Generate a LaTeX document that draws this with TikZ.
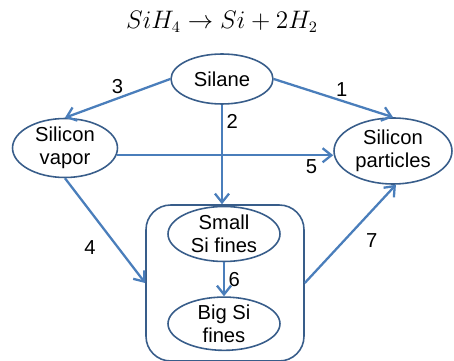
\documentclass[tikz,border=0pt]{standalone}
\usepackage{fontspec}
\setmainfont{Liberation Sans}
\definecolor{siline}{RGB}{74,126,187}
\definecolor{siedge}{RGB}{56,93,138}
\usetikzlibrary{arrows.meta,positioning,shapes.geometric}

\begin{document}
\begin{tikzpicture}[
        x=0.02cm,y=-0.02cm,
        node distance=0.68cm,
        blob/.style={ellipse,draw=siedge,line width=0.9pt,fill=white,
                     inner sep=0pt,align=center,font=\fontsize{11.5}{13}\selectfont},
        pot/.style={rectangle,draw=siedge,line width=0.9pt,rounded corners=14pt,
                    minimum width=3.16cm,minimum height=3.12cm},
        flow/.style={-{Straight Barb[length=5pt,width=8pt]},line width=1.3pt,siline},
        num/.style={font=\fontsize{11.5}{12}\selectfont,text=black,inner sep=2pt}
      ]
        \useasboundingbox (0,0) rectangle (454,361);
        % reaction
        \node (eq) at (222,22) {\fontsize{13.3}{15}\selectfont $SiH_4\rightarrow Si+2H_2$};
        % species
        \node[blob,minimum width=2.04cm,minimum height=1.0cm] (silane) at (222,79) {Silane};
        \node[blob,minimum width=2.1cm,minimum height=1.18cm] (vapor) at (65,148) {Silicon\\vapor};
        \node[blob,minimum width=2.36cm,minimum height=1.32cm] (parts) at (393,151) {Silicon\\particles};
        \node[pot] (pot) at (225,283) {};
        \node[blob,minimum width=2.24cm,minimum height=1.1cm] (small) at (224,234) {Small\\Si fines};
        \node[blob,minimum width=2.24cm,minimum height=1.04cm,below=of small] (big) {Big Si\\fines};
        % routes
        \draw[flow] (silane.east) -- node[num,above,pos=.57] {1} (parts.north);
        \draw[flow] (silane.south) -- node[num,right,pos=.17] {2} (silane.south |- pot.north);
        \draw[flow] (silane.west) -- node[num,above,pos=.5] {3} (vapor.north);
        \draw[flow] (vapor.south) -- node[num,left=10pt,pos=.66] {4} (pot.west);
        \draw[flow] (vapor.-8) -- node[num,below,pos=.9] {5} (vapor.-8 -| parts.west);
        \draw[flow] (small) -- node[num,right,pos=.5] {6} (big);
        \draw[flow] (pot.east) -- node[num,right=10pt,pos=.43] {7} (parts.-85);
      \end{tikzpicture}
\end{document}
